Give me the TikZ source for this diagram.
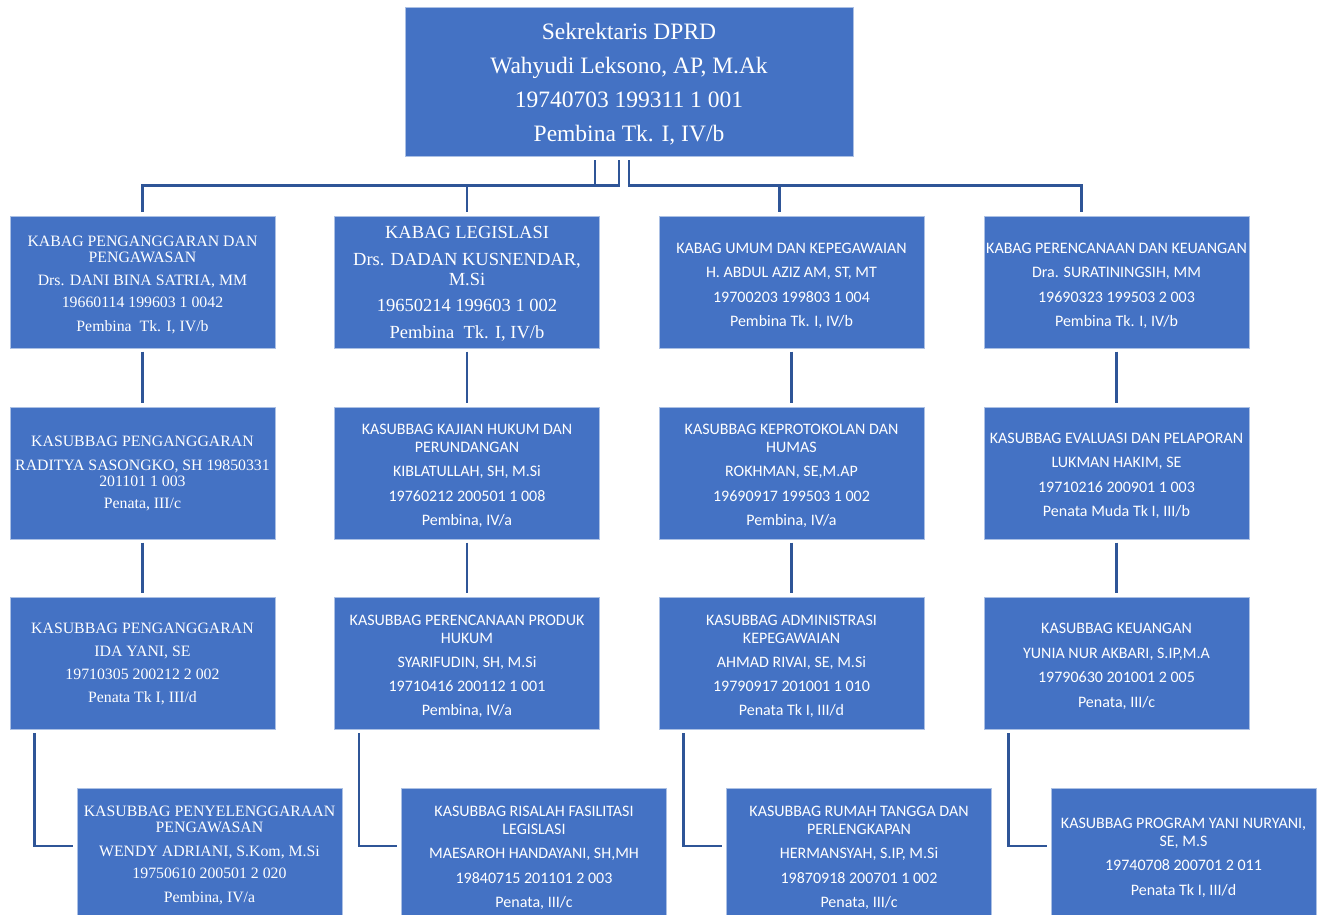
\documentclass[tikz,border=0pt]{standalone}
\usepackage{fontspec}
\setmainfont{Liberation Serif}
\newfontfamily\calibri{Carlito}
\usetikzlibrary{calc}
\definecolor{boxblue}{HTML}{4472C4}
\definecolor{linkblue}{HTML}{2F5597}
\begin{document}
\begin{tikzpicture}[x=1pt,y=-1pt,
  box/.style={fill=boxblue, draw=white!55!boxblue, line width=1pt, text=white,
    minimum width=265, minimum height=132, inner sep=0pt, align=center},
  sfbox/.style={box, font=\calibri\fontsize{16}{18}\selectfont},
  rmbox/.style={box, font=\fontsize{15.8}{16}\selectfont},
  link/.style={draw=linkblue, line width=2.7pt, shorten <=3pt, shorten >=4pt}
]
\useasboundingbox (0,0) rectangle (1323,915);

% top
\node[box, minimum width=448, minimum height=149, font=\fontsize{23.5}{34}\selectfont]
  (top) at (629,82.5) {\mbox{}\\[-14pt]Sekrektaris DPRD\\Wahyudi Leksono, AP, M.Ak\\19740703 199311 1 001\\Pembina Tk. I, IV/b};

% row 1
\node[rmbox] (k1) at (142.5,282) {\mbox{}\\[0pt]KABAG PENGANGGARAN DAN\\PENGAWASAN\\[7pt]Drs. DANI BINA SATRIA, MM\\[6pt]19660114 199603 1 0042\\[8pt]Pembina\ \ Tk. I, IV/b};
\node[box, font=\fontsize{18.5}{20}\selectfont] (k2) at (467,282) {\mbox{}\\[-4pt]KABAG LEGISLASI\\[7pt]Drs. DADAN KUSNENDAR,\\M.Si\\[6pt]19650214 199603 1 002\\[7pt]Pembina\ \ Tk. I, IV/b};
\node[sfbox] (k3) at (791.5,282) {\mbox{}\\[0pt]KABAG UMUM DAN KEPEGAWAIAN\\[6.3pt]H. ABDUL AZIZ AM, ST, MT\\[6.3pt]19700203 199803 1 004\\[6.3pt]Pembina Tk. I, IV/b};
\node[sfbox] (k4) at (1116.5,282) {\mbox{}\\[0pt]KABAG PERENCANAAN DAN KEUANGAN\\[6.3pt]Dra. SURATININGSIH, MM\\[6.3pt]19690323 199503 2 003\\[6.3pt]Pembina Tk. I, IV/b};

% row 2
\node[rmbox] (s1) at (142.5,473) {\mbox{}\\[-4pt]KASUBBAG PENGANGGARAN\\[8pt]RADITYA SASONGKO, SH 19850331\\201101 1 003\\[6pt]Penata, III/c};
\node[sfbox] (s2) at (467,473) {\mbox{}\\[-2pt]KASUBBAG KAJIAN HUKUM DAN\\PERUNDANGAN\\[6.3pt]KIBLATULLAH, SH, M.Si\\[6.3pt]19760212 200501 1 008\\[6.3pt]Pembina, IV/a};
\node[sfbox] (s3) at (791.5,473) {\mbox{}\\[-2pt]KASUBBAG KEPROTOKOLAN DAN\\HUMAS\\[6.3pt]ROKHMAN, SE,M.AP\\[6.3pt]19690917 199503 1 002\\[6.3pt]Pembina, IV/a};
\node[sfbox] (s4) at (1116.5,473) {\mbox{}\\[-2pt]KASUBBAG EVALUASI DAN PELAPORAN\\[6.5pt]LUKMAN HAKIM, SE\\[6.5pt]19710216 200901 1 003\\[6.5pt]Penata Muda Tk I, III/b};

% row 3
\node[rmbox] (t1) at (142.5,663.5) {\mbox{}\\[-4pt]KASUBBAG PENGANGGARAN\\[7pt]IDA YANI, SE\\[7pt]19710305 200212 2 002\\[7pt]Penata Tk I, III/d};
\node[sfbox] (t2) at (467,663.5) {\mbox{}\\[-2pt]KASUBBAG PERENCANAAN PRODUK\\HUKUM\\[6.3pt]SYARIFUDIN, SH, M.Si\\[6.3pt]19710416 200112 1 001\\[6.3pt]Pembina, IV/a};
\node[sfbox] (t3) at (791.5,663.5) {\mbox{}\\[-2pt]KASUBBAG ADMINISTRASI\\KEPEGAWAIAN\\[6.3pt]AHMAD RIVAI, SE, M.Si\\[6.3pt]19790917 201001 1 010\\[6.3pt]Penata Tk I, III/d};
\node[sfbox] (t4) at (1116.5,663.5) {\mbox{}\\[-2pt]KASUBBAG KEUANGAN\\[6.3pt]YUNIA NUR AKBARI, S.IP,M.A\\[6.3pt]19790630 201001 2 005\\[6.5pt]Penata, III/c};

% row 4
\node[rmbox] (u1) at (209.5,854) {\mbox{}\\[-3pt]KASUBBAG PENYELENGGARAAN\\PENGAWASAN\\[8pt]WENDY ADRIANI, S.Kom, M.Si\\[6pt]19750610 200501 2 020\\[8pt]Pembina, IV/a};
\node[sfbox] (u2) at (534,854) {\mbox{}\\[0pt]KASUBBAG RISALAH FASILITASI\\LEGISLASI\\[6.5pt]MAESAROH HANDAYANI, SH,MH\\[6.3pt]19840715 201101 2 003\\[6.5pt]Penata, III/c};
\node[sfbox] (u3) at (859,854) {\mbox{}\\[0pt]KASUBBAG RUMAH TANGGA DAN\\PERLENGKAPAN\\[6.5pt]HERMANSYAH, S.IP, M.Si\\[6.3pt]19870918 200701 1 002\\[6.5pt]Penata, III/c};
\node[sfbox] (u4) at (1183.5,854) {\mbox{}\\[0pt]KASUBBAG PROGRAM YANI NURYANI,\\SE, M.S\\[6.3pt]19740708 200701 2 011\\[6.5pt]Penata Tk I, III/d};

% connectors from top
\draw[link] ($(top.south)+(-34,0)$) -- ++(0,28) -| (k1.north);
\draw[link] ($(top.south)+(-10,0)$) -- ++(0,28) -| (k2.north);
\draw[link] (top.south) -- ++(0,28) -| ($(k3.north west)+(121,0)$);
\draw[link] (top.south) -- ++(0,28) -| ($(k4.north west)+(98,0)$);

% vertical links
\foreach \a/\b in {k1/s1,k2/s2,k3/s3,k4/s4,s1/t1,s2/t2,s3/t3,s4/t4}
  \draw[link] (\a.south) -- (\b.north);

% elbows to row 4
\foreach \a/\b in {t1/u1,t2/u2,t3/u3,t4/u4}
  \draw[link] ($(\a.south west)+(25,0)$) |- ($(\b.west)+(0,-8)$);
\end{tikzpicture}
\end{document}
